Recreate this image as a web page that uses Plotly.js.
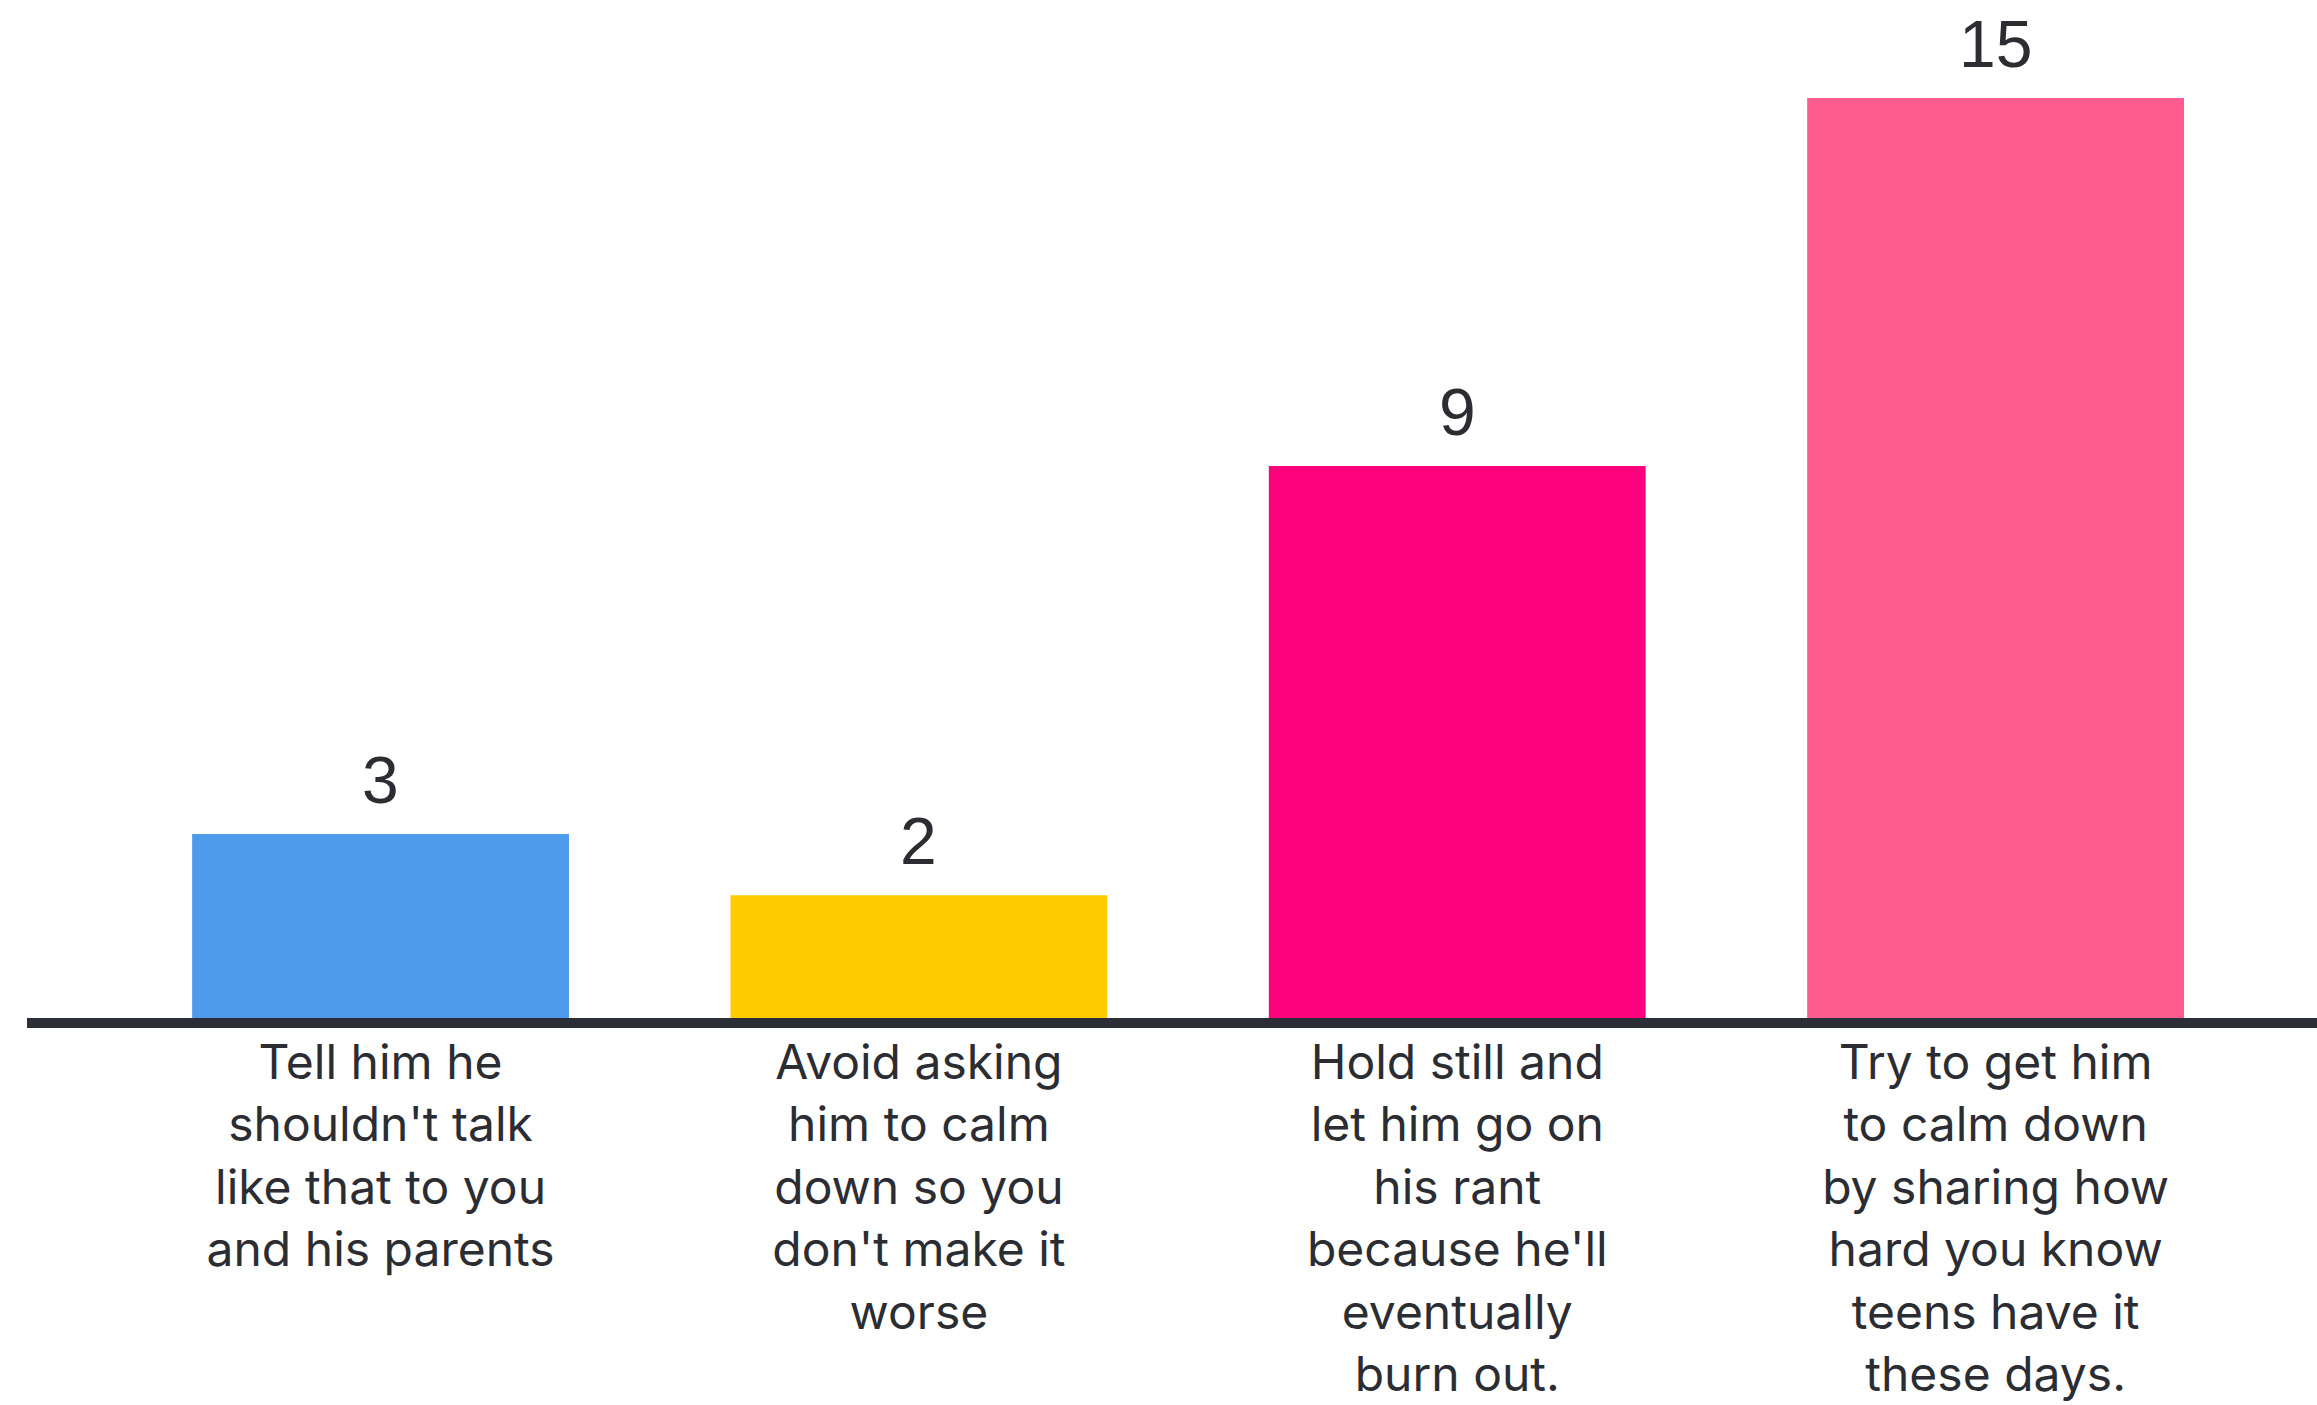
<!DOCTYPE html>
<html>
<head>
<meta charset="utf-8">
<script src="https://cdn.plot.ly/plotly-3.0.1.min.js"></script>
<style>
  html, body { margin: 0; padding: 0; background: #ffffff; }
  #chart { width: 2317px; height: 1405px; }
</style>
</head>
<body>
<div id="chart"></div>
<script>
// ---- data ----
const categories = [
  "Tell him he shouldn't talk like that to you and his parents",
  "Avoid asking him to calm down so you don't make it worse",
  "Hold still and let him go on his rant because he'll eventually burn out.",
  "Try to get him to calm down by sharing how hard you know teens have it these days."
];
const tickLabels = [
  "Tell him he<br>shouldn't talk<br>like that to you<br>and his parents",
  "Avoid asking<br>him to calm<br>down so you<br>don't make it<br>worse",
  "Hold still and<br>let him go on<br>his rant<br>because he'll<br>eventually<br>burn out.",
  "Try to get him<br>to calm down<br>by sharing how<br>hard you know<br>teens have it<br>these days."
];
const values = [3, 2, 9, 15];
const barColors = ["#4e9aeb", "#fecb00", "#fe027e", "#fe5b8e"];

// ---- chart ----
const trace = {
  type: "bar",
  x: categories,
  y: values,
  marker: { color: barColors, line: { width: 0 } },
  hoverinfo: "none"
};

const annotations = categories.map((c, i) => ({
  x: c,
  y: values[i],
  xref: "x",
  yref: "y",
  text: String(values[i]),
  showarrow: false,
  yanchor: "bottom",
  yshift: 15,
  font: { family: "Liberation Sans, Arial, sans-serif", size: 66, color: "#2b2d33" }
}));

const layout = {
  width: 2317,
  height: 1405,
  margin: { l: 0, r: 0, t: 0, b: 387 },
  paper_bgcolor: "#ffffff",
  plot_bgcolor: "#ffffff",
  showlegend: false,
  bargap: 0.3,
  xaxis: {
    type: "category",
    range: [-0.7069, 3.597],
    tickvals: categories,
    ticktext: tickLabels,
    ticks: "",
    showline: false,
    showgrid: false,
    zeroline: false,
    tickangle: 0,
    ticklabelstandoff: 12,
    tickfont: { family: "Inter, 'Noto Sans', sans-serif", size: 48, color: "#2b2d33" }
  },
  yaxis: {
    range: [0, 16.6],
    showgrid: false,
    zeroline: false,
    showline: false,
    showticklabels: false,
    ticks: ""
  },
  shapes: [{
    type: "rect",
    xref: "paper",
    yref: "paper",
    ysizemode: "pixel",
    yanchor: 0,
    x0: 27 / 2317,
    x1: 1,
    y0: 0,
    y1: -10,
    fillcolor: "#2b2e36",
    line: { width: 0 },
    layer: "above"
  }],
  annotations: annotations
};

Plotly.newPlot("chart", [trace], layout, { staticPlot: true, displayModeBar: false });
</script>
</body>
</html>
